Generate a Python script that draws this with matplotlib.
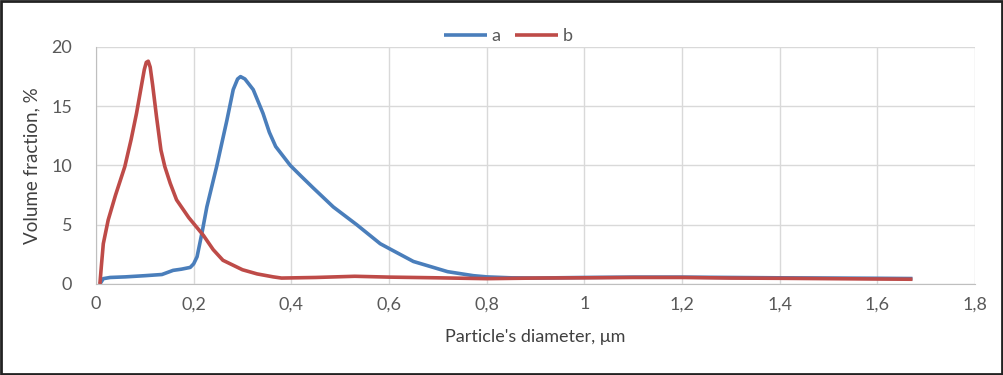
import matplotlib.pyplot as plt
from matplotlib.patches import Rectangle

# particle size distributions
x_a = [0.008, 0.015, 0.029, 0.06, 0.1, 0.135, 0.158, 0.175, 0.193, 0.2, 0.207,
       0.217, 0.227, 0.247, 0.268, 0.281, 0.29, 0.296, 0.305, 0.322, 0.342,
       0.355, 0.368, 0.383, 0.398, 0.42, 0.445, 0.486, 0.534, 0.582, 0.6, 0.65,
       0.72, 0.773, 0.8, 0.85, 0.9, 1.0, 1.1, 1.2, 1.3, 1.4, 1.5, 1.6, 1.672]
y_a = [0.0, 0.45, 0.55, 0.6, 0.7, 0.8, 1.15, 1.25, 1.4, 1.7, 2.3,
       4.3, 6.5, 9.9, 13.8, 16.4, 17.3, 17.5, 17.3, 16.4, 14.4,
       12.8, 11.6, 10.8, 10.0, 9.1, 8.1, 6.5, 5.0, 3.4, 3.0, 1.9,
       1.04, 0.7, 0.6, 0.52, 0.5, 0.55, 0.58, 0.58, 0.55, 0.52, 0.5, 0.48, 0.46]

x_b = [0.008, 0.011, 0.015, 0.025, 0.04, 0.059, 0.072, 0.083, 0.094, 0.099,
       0.103, 0.107, 0.111, 0.116, 0.124, 0.133, 0.141, 0.152, 0.165, 0.19, 0.22,
       0.24, 0.26, 0.3, 0.33, 0.363, 0.38, 0.45, 0.53, 0.6, 0.7, 0.8, 0.9,
       1.0, 1.1, 1.2, 1.3, 1.4, 1.5, 1.6, 1.672]
y_b = [0.0, 1.5, 3.4, 5.4, 7.5, 9.9, 12.2, 14.4, 16.95, 18.1,
       18.7, 18.8, 18.3, 16.8, 14.1, 11.3, 9.9, 8.5, 7.1, 5.6, 4.1,
       2.9, 2.0, 1.2, 0.85, 0.6, 0.5, 0.55, 0.65, 0.58, 0.52, 0.45, 0.5,
       0.52, 0.55, 0.55, 0.5, 0.48, 0.45, 0.42, 0.4]

x_ticks = [0, 0.2, 0.4, 0.6, 0.8, 1.0, 1.2, 1.4, 1.6, 1.8]
x_tick_labels = ["0", "0,2", "0,4", "0,6", "0,8", "1", "1,2", "1,4", "1,6", "1,8"]
y_ticks = [0, 5, 10, 15, 20]

plt.rcParams['font.family'] = ['Lato', 'DejaVu Sans']

fig = plt.figure(figsize=(10.04, 3.75), dpi=100)
ax = fig.add_axes([0.0956, 0.2427, 0.8755, 0.632])

ax.plot(x_a, y_a, color="#4a7ebb", lw=2.6, label="a", solid_capstyle="butt")
ax.plot(x_b, y_b, color="#be4b48", lw=2.6, label="b", solid_capstyle="butt")

ax.set_xlim(0, 1.8)
ax.set_ylim(0, 20)
ax.set_xticks(x_ticks)
ax.set_xticklabels(x_tick_labels)
ax.set_yticks(y_ticks)
ax.tick_params(length=0, labelsize=13, labelcolor="#595959")
ax.tick_params(axis="x", pad=9)
ax.tick_params(axis="y", pad=17)
ax.grid(color="#d9d9d9", lw=1)
ax.set_axisbelow(True)
for s in ["top", "right"]:
    ax.spines[s].set_visible(False)
for s in ["left", "bottom"]:
    ax.spines[s].set_color("#bfbfbf")

ax.set_xlabel("Particle's diameter, \u03bcm", fontsize=13, color="#404040", labelpad=12)
ax.set_ylabel("Volume fraction, %", fontsize=13.5, color="#404040", labelpad=8)

ax.legend(loc="center", bbox_to_anchor=(0.469, 1.046), ncol=2, frameon=False,
          fontsize=13, handlelength=2.4, columnspacing=0.8, handletextpad=0.25,
          labelcolor="#595959", borderpad=0, borderaxespad=0)

fig.patches.append(Rectangle((0.001, 0.002), 0.997, 0.995, transform=fig.transFigure,
                             fill=False, edgecolor="#222222", lw=2))

fig.savefig("out.png", dpi=100)
